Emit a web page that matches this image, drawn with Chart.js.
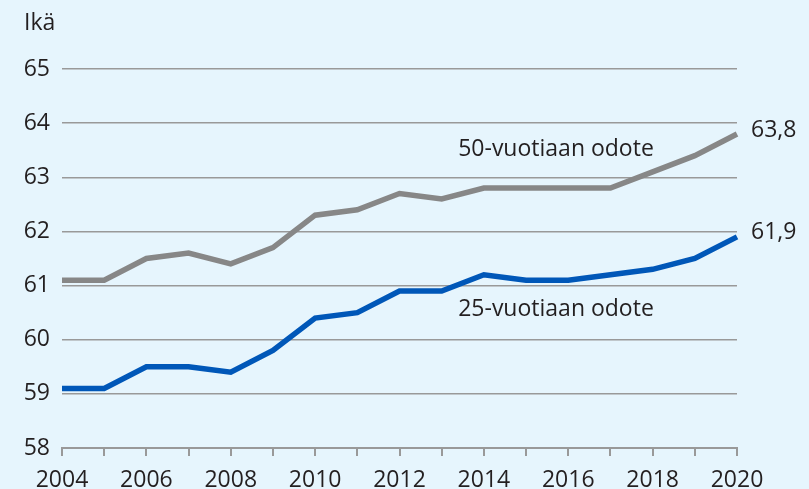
<!DOCTYPE html>
<html>
<head>
<meta charset="utf-8">
<script src="https://cdn.jsdelivr.net/npm/chart.js@4/dist/chart.umd.min.js"></script>
<style>
  html, body { margin: 0; padding: 0; background: #e6f5fd; }
  #wrap { width: 809px; height: 489px; }
</style>
</head>
<body>
<div id="wrap"><canvas id="ageChart"></canvas></div>
<script>
const years = ['2004','2005','2006','2007','2008','2009','2010','2011','2012','2013','2014','2015','2016','2017','2018','2019','2020'];
const age50 = [61.1, 61.1, 61.5, 61.6, 61.4, 61.7, 62.3, 62.4, 62.7, 62.6, 62.8, 62.8, 62.8, 62.8, 63.1, 63.4, 63.8];
const age25 = [59.1, 59.1, 59.5, 59.5, 59.4, 59.8, 60.4, 60.5, 60.9, 60.9, 61.2, 61.1, 61.1, 61.2, 61.3, 61.5, 61.9];
const yTicks = [58, 59, 60, 61, 62, 63, 64, 65];

const FONT = "'Open Sans', 'Noto Sans', sans-serif";
const TEXT = '#231f20';

// texts drawn on top of the chart: axis title, series names, end values
const labelsPlugin = {
    id: 'labels',
    afterDraw(chart) {
        const ctx = chart.ctx;
        const x = chart.scales.x;
        const y = chart.scales.y;
        ctx.save();
        ctx.fillStyle = TEXT;
        ctx.font = '23px ' + FONT;
        ctx.textBaseline = 'middle';
        ctx.textAlign = 'left';
        ctx.fillText('Ikä', 24, 23);

        const last = years.length - 1;
        ctx.fillText(String(age50[last]).replace('.', ','), x.getPixelForValue(last) + 14, y.getPixelForValue(age50[last]) - 4);
        ctx.fillText(String(age25[last]).replace('.', ','), x.getPixelForValue(last) + 14, y.getPixelForValue(age25[last]) - 4);

        ctx.textAlign = 'center';
        ctx.fillText('50-vuotiaan odote', 556, y.getPixelForValue(63.51));
        ctx.fillText('25-vuotiaan odote', 556, y.getPixelForValue(60.56));
        ctx.restore();
    }
};

const config = {
    type: 'line',
    data: {
        labels: years,
        datasets: [{
            label: '50-vuotiaan odote',
            data: age50,
            borderColor: '#878787',
            borderWidth: 5.5,
            pointRadius: 0,
            tension: 0
        }, {
            label: '25-vuotiaan odote',
            data: age25,
            borderColor: '#0057b8',
            borderWidth: 5.5,
            pointRadius: 0,
            tension: 0
        }]
    },
    options: {
        responsive: true,
        maintainAspectRatio: false,
        animation: false,
        layout: {
            padding: { left: 0, right: 72, top: 69, bottom: 0 }
        },
        plugins: {
            legend: { display: false },
            tooltip: { enabled: false }
        },
        scales: {
            x: {
                offset: false,
                grid: {
                    drawOnChartArea: false,
                    drawTicks: true,
                    tickLength: 8,
                    color: '#999999',
                    lineWidth: 2
                },
                border: { display: true, color: '#999999', width: 2 },
                ticks: {
                    autoSkip: false,
                    maxRotation: 0,
                    color: TEXT,
                    font: { size: 23, family: FONT },
                    padding: 11,
                    callback: function(val, i) {
                        return i % 2 === 0 ? years[i] : '';
                    }
                },
                afterFit: function(scale) { scale.height = 41; }
            },
            y: {
                min: 58,
                max: 65,
                afterBuildTicks: function(scale) {
                    scale.ticks = yTicks.map(v => ({ value: v }));
                },
                grid: {
                    drawTicks: false,
                    color: '#999999',
                    lineWidth: 1.5
                },
                border: { display: false },
                ticks: {
                    color: TEXT,
                    font: { size: 23, family: FONT },
                    padding: 12
                },
                afterFit: function(scale) { scale.width = 62; }
            }
        }
    },
    plugins: [labelsPlugin]
};

const ageChart = new Chart(document.getElementById('ageChart'), config);
</script>
</body>
</html>
